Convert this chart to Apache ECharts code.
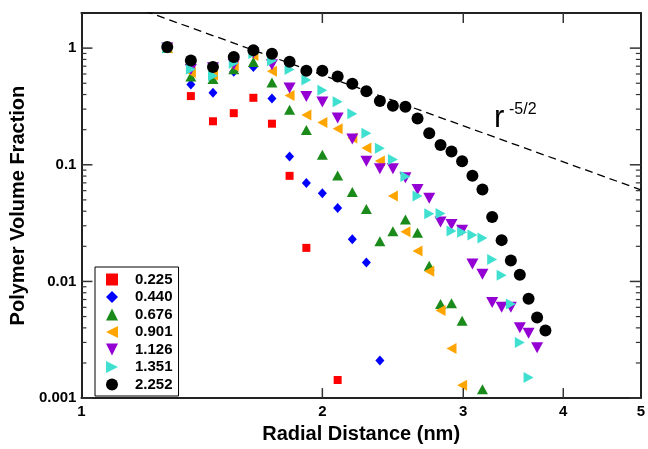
<!DOCTYPE html>
<html>
<head>
<meta charset="utf-8">
<script src="https://cdn.jsdelivr.net/npm/echarts@6/dist/echarts.min.js"></script>
<style>
    html, body { margin: 0; padding: 0; background: #fff; }
    #chart { width: 648px; height: 449px; }
</style>
</head>
<body>
<div id="chart"></div>
<script>
// radial distance (nm) of each shell
let radii = [1.28, 1.37, 1.46, 1.55, 1.64, 1.73, 1.82, 1.91, 2.00, 2.09,
             2.18, 2.27, 2.36, 2.45, 2.54, 2.63, 2.72, 2.81, 2.90, 2.99,
             3.08, 3.17, 3.26, 3.35, 3.44, 3.53, 3.62, 3.71, 3.80];

// polymer volume fraction per shell, one list per curve (null = no point)
let vf0225 = [1.0, 0.388, 0.236, 0.277, 0.375, 0.225, 0.0804, 0.0194, null, 0.00143];
let vf0440 = [1.0, 0.488, 0.415, 0.627, 0.690, 0.370, 0.118, 0.0699, 0.0570, 0.0427,
              0.0230, 0.0145, 0.0021];
let vf0676 = [1.0, 0.572, 0.543, 0.659, 0.760, 0.507, 0.296, 0.199, 0.122, 0.081,
              0.0584, 0.0418, 0.0221, 0.0269, 0.0339, 0.0262, 0.0136, 0.0064, 0.0065, 0.0046,
              null, 0.00119];
let vf0901 = [1.0, 0.618, 0.587, 0.703, 0.866, 0.634, 0.392, 0.267, 0.230, 0.204,
              0.170, 0.139, 0.108, 0.054, 0.0267, 0.0182, 0.0122, 0.00563, 0.00266, 0.00129];
let vf1126 = [1.0, 0.655, 0.68, 0.725, 0.908, 0.721, 0.455, 0.384, 0.345, 0.252,
              0.166, 0.107, 0.0926, 0.0926, 0.0774, 0.0614, 0.0517, 0.0324, 0.0307, 0.0274,
              0.0141, 0.0115, 0.0066, 0.0060, 0.0060, 0.0040, 0.0036, 0.0027];
let vf1351 = [1.0, 0.659, 0.580, 0.74, 0.90, 0.779, 0.655, 0.533, 0.435, 0.347,
              0.274, 0.1865, 0.1387, 0.111, 0.0794, 0.054, 0.038, 0.0382, 0.0271, 0.0264,
              0.0250, 0.0236, 0.0154, 0.0113, 0.0064, 0.0030, 0.0015];
let vf2252 = [1.02, 0.783, 0.690, 0.841, 0.957, 0.896, 0.764, 0.639, 0.639, 0.572,
              0.494, 0.427, 0.352, 0.321, 0.315, 0.249, 0.1865, 0.148, 0.130, 0.1074,
              0.0804, 0.0614, 0.0357, 0.0226, 0.0151, 0.0114, 0.0071, 0.0049, 0.0038];

let seriesNames = ['0.225', '0.440', '0.676', '0.901', '1.126', '1.351', '2.252'];

// r^-5/2 guide line end points
let guideLine = [[1.2, 2.08], [5, 0.061]];

// axis ticks
let xTickLabels = [1, 2, 3, 4, 5];
let xTicks = [2, 3, 4];
let yTickLabels = [0.001, 0.01, 0.1, 1];
let yMinorTicks = [0.002, 0.003, 0.004, 0.005, 0.006, 0.007, 0.008, 0.009,
                   0.02, 0.03, 0.04, 0.05, 0.06, 0.07, 0.08, 0.09,
                   0.2, 0.3, 0.4, 0.5, 0.6, 0.7, 0.8, 0.9];

(function(){
    let font = 'Liberation Sans';
    let xMin = 1, xMax = 5, yMin = 0.001, yMax = 2;

    // triangle shapes pointing left / down / right
    let triLeft = 'path://M0,5L10,0L10,10Z';
    let triDown = 'path://M0,0L10,0L5,10Z';
    let triRight = 'path://M0,0L10,5L0,10Z';

    let _pairs = function(ys){
        let out = [];
        ys.forEach((v, i) => { if (v !== null) out.push([radii[i], v]); });
        return out;
    };

    let looks = [
        { data: vf0225, symbol: 'rect',     size: 8,        color: '#ff0000' },
        { data: vf0440, symbol: 'diamond',  size: [9, 10],  color: '#0000ff' },
        { data: vf0676, symbol: 'triangle', size: [11, 10], color: '#1a8a1a' },
        { data: vf0901, symbol: triLeft,    size: [10, 11], color: '#ffa500' },
        { data: vf1126, symbol: triDown,    size: [12, 11], color: '#9400d3' },
        { data: vf1351, symbol: triRight,   size: [10, 11], color: '#40e0d0' },
        { data: vf2252, symbol: 'circle',   size: 12,       color: '#000000' }
    ];

    let series = looks.map((l, i) => ({
        name: seriesNames[i],
        type: 'scatter',
        data: _pairs(l.data),
        symbol: l.symbol,
        symbolSize: l.size,
        symbolKeepAspect: false,
        itemStyle: { color: l.color, opacity: 1 },
        emphasis: { disabled: true },
        z: 3
    }));

    series.push({
        name: 'guide',
        type: 'line',
        data: guideLine,
        symbol: 'none',
        clip: true,
        lineStyle: { color: '#000', width: 1.3, type: [8, 5] },
        emphasis: { disabled: true },
        z: 2
    });

    // tick marks drawn inward on both sides of the frame, positioned by the axes
    let _tickSeries = function(values, onX, len, width){
        return {
            type: 'custom',
            silent: true,
            clip: false,
            z: 4,
            data: values.map((v) => onX ? [v, yMin] : [xMin, v]),
            renderItem: function(params, api){
                let a, b, s1, s2;
                if (onX) {
                    a = api.coord([api.value(0), yMin]);
                    b = api.coord([api.value(0), yMax]);
                    s1 = { x1: a[0], y1: a[1], x2: a[0], y2: a[1] - len };
                    s2 = { x1: b[0], y1: b[1], x2: b[0], y2: b[1] + len };
                } else {
                    a = api.coord([xMin, api.value(1)]);
                    b = api.coord([xMax, api.value(1)]);
                    s1 = { x1: a[0], y1: a[1], x2: a[0] + len, y2: a[1] };
                    s2 = { x1: b[0], y1: b[1], x2: b[0] - len, y2: b[1] };
                }
                let st = { stroke: '#333', lineWidth: width };
                return { type: 'group', children: [
                    { type: 'line', shape: s1, style: st },
                    { type: 'line', shape: s2, style: st }
                ]};
            }
        };
    };
    series.push(_tickSeries(xTicks, true, 10, 1.5));
    series.push(_tickSeries(yTickLabels, false, 11, 1.5));
    series.push(_tickSeries(yMinorTicks, false, 5, 1.2));

    let logAxis = function(extra){
        return Object.assign({
            type: 'log',
            axisLine: { show: true, lineStyle: { color: '#222', width: 2 } },
            axisTick: { show: false },
            axisLabel: { show: false },
            splitLine: { show: false },
            minorTick: { show: false }
        }, extra);
    };

    let labelStyle = { fontFamily: font, fontWeight: 'bold', fontSize: 15, color: '#000' };
    let nameStyle = { fontFamily: font, fontWeight: 'bold', fontSize: 20, color: '#000' };

    let opts = {
        animation: false,
        grid: { left: 80, right: 3, top: 13, bottom: 41 },
        xAxis: [
            logAxis({
                position: 'bottom', min: xMin, max: xMax,
                axisLabel: Object.assign({ show: true, margin: 6, customValues: xTickLabels,
                    formatter: (v) => String(Math.round(v)) }, labelStyle),
                name: 'Radial Distance (nm)',
                nameLocation: 'middle',
                nameGap: 23,
                nameTextStyle: nameStyle
            }),
            logAxis({ position: 'top', min: xMin, max: xMax })
        ],
        yAxis: [
            logAxis({
                position: 'left', min: yMin, max: yMax,
                axisLabel: Object.assign({ show: true, margin: 5, customValues: yTickLabels,
                    formatter: (v) => String(parseFloat(v.toPrecision(3))) }, labelStyle),
                name: 'Polymer Volume Fraction',
                nameLocation: 'middle',
                nameGap: 52,
                nameTextStyle: nameStyle
            }),
            logAxis({ position: 'right', min: yMin, max: yMax })
        ],
        legend: {
            data: seriesNames.map((n, i) => ({ name: n, icon: looks[i].symbol })),
            orient: 'vertical',
            left: 95,
            top: 267,
            padding: [5, 6, 4, 11],
            itemWidth: 12,
            itemHeight: 12,
            itemGap: 2.5,
            symbolKeepAspect: true,
            borderColor: '#000',
            borderWidth: 1,
            selectedMode: false,
            textStyle: { fontFamily: font, fontWeight: 'bold', fontSize: 15, color: '#000',
                         padding: [0, 0, 0, 12] }
        },
        graphic: [
            { type: 'text', left: 494, top: 103,
              style: { text: 'r', font: '31px "Liberation Sans"', fill: '#000' } },
            { type: 'text', left: 509, top: 102,
              style: { text: '-5/2', font: '16px "Liberation Sans"', fill: '#000' } }
        ],
        series: series
    };

    let chart = echarts.init(document.getElementById('chart'));
    chart.setOption(opts);
})();
</script>
</body>
</html>
